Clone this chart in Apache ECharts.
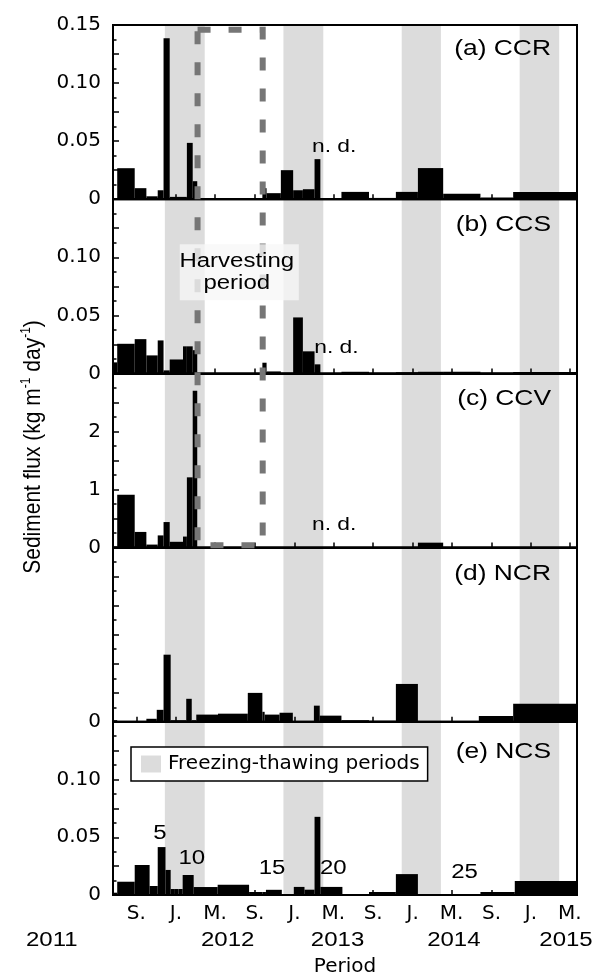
<!DOCTYPE html>
<html><head><meta charset="utf-8">
<script src="https://cdn.jsdelivr.net/npm/echarts@6/dist/echarts.min.js"></script>
<style>html,body{margin:0;padding:0;background:#fff}#c{width:595px;height:978px}</style>
</head><body><div id="c"></div>
<script>
// ---------------- DATA ----------------
const xRange = ['2011-06-21', '2015-05-23'];
const xTickDates = ['2011-09-01','2012-01-01','2012-05-01','2012-09-01','2013-01-01','2013-05-01',
                    '2013-09-01','2014-01-01','2014-05-01','2014-09-01','2015-01-01','2015-05-01'];
const xTickLabels = ['S.','J.','M.','S.','J.','M.','S.','J.','M.','S.','J.','M.'];
const yearLabels = ['2011','2012','2013','2014','2015'];
const yearLabelDates = ['2010-12-14','2012-06-09','2013-05-14','2014-05-08','2015-04-19'];
const freezePeriods = [['2011-11-28','2012-03-30'],['2012-11-28','2013-03-31'],
                       ['2013-11-28','2014-03-29'],['2014-11-27','2015-03-29']];
const harvestPeriod = ['2012-03-08','2012-09-25'];
const panelTitles = ['(a) CCR','(b) CCS','(c) CCV','(d) NCR','(e) NCS'];
const yMaxes = [0.15, 0.15, 3, 0.15, 0.15];
const yMajorSteps = [0.025, 0.025, 0.5, 0.025, 0.025];
const noDataPanels = [0, 1, 2];
const noDataDates = ['2013-02-24', '2013-03-03', '2013-02-24'];

// sampling periods: [start, end, sediment flux]
const ccrFlux = [
 ['2011-06-21','2011-07-04',0.001],['2011-07-04','2011-08-27',0.0267],['2011-08-27','2011-10-02',0.0095],
 ['2011-10-02','2011-11-06',0.0025],['2011-11-06','2011-11-24',0.0077],['2011-11-24','2011-12-13',0.1386],
 ['2011-12-13','2012-01-23',0.002],['2012-01-23','2012-02-04',0.002],['2012-02-04','2012-02-22',0.0485],
 ['2012-02-22','2012-03-07',0.0155],['2012-09-24','2012-10-07',0.0095],['2012-10-07','2012-11-20',0.0052],
 ['2012-11-20','2012-12-28',0.025],['2012-12-28','2013-01-27',0.0077],['2013-01-27','2013-03-04',0.0086],
 ['2013-03-04','2013-03-22',0.0345],['2013-05-26','2013-08-19',0.0063],['2013-08-19','2013-11-10',0.0011],
 ['2013-11-10','2014-01-17',0.0063],['2014-01-17','2014-04-05',0.0268],['2014-04-05','2014-07-29',0.0046],
 ['2014-07-29','2014-11-07',0.0015],['2014-11-07','2015-05-22',0.0063]
];
const ccsFlux = [
 ['2011-06-21','2011-07-04',0.0095],['2011-07-04','2011-08-27',0.0255],['2011-08-27','2011-10-02',0.0295],
 ['2011-10-02','2011-11-06',0.0155],['2011-11-06','2011-11-24',0.0284],['2011-11-24','2011-12-13',0.0026],
 ['2011-12-13','2012-01-23',0.012],['2012-01-23','2012-02-04',0.0233],['2012-02-04','2012-02-22',0.0233],
 ['2012-02-22','2012-03-07',0.020],['2012-09-24','2012-10-07',0.0092],['2012-10-07','2012-11-20',0.0017],
 ['2012-11-20','2012-12-28',0.0006],['2012-12-28','2013-01-27',0.0482],['2013-01-27','2013-03-04',0.019],
 ['2013-03-04','2013-03-22',0.0078],['2013-05-26','2013-08-19',0.0014],['2013-08-19','2013-11-10',0.0005],
 ['2013-11-10','2014-01-17',0.001],['2014-01-17','2014-04-05',0.0014],['2014-04-05','2014-07-29',0.0014],
 ['2014-07-29','2014-11-07',0.0006],['2014-11-07','2015-05-22',0.0011]
];
const ccvFlux = [
 ['2011-06-21','2011-07-04',0.02],['2011-07-04','2011-08-27',0.91],['2011-08-27','2011-10-02',0.27],
 ['2011-10-02','2011-11-06',0.052],['2011-11-06','2011-11-24',0.21],['2011-11-24','2011-12-13',0.44],
 ['2011-12-13','2012-01-23',0.10],['2012-01-23','2012-02-04',0.19],['2012-02-04','2012-02-22',1.21],
 ['2012-02-22','2012-03-07',2.70],['2012-09-24','2012-10-07',0.01],['2012-10-07','2012-11-20',0.005],
 ['2012-11-20','2012-12-28',0.003],['2012-12-28','2013-01-27',0.01],['2013-01-27','2013-03-04',0.008],
 ['2013-03-04','2013-03-22',0.005],['2013-05-26','2013-08-19',0.005],['2013-08-19','2013-11-10',0.003],
 ['2013-11-10','2014-01-17',0.005],['2014-01-17','2014-04-05',0.085],['2014-04-05','2014-07-29',0.005],
 ['2014-07-29','2014-11-07',0.003],['2014-11-07','2015-05-22',0.005]
];
const ncrFlux = [
 ['2011-06-21','2011-07-04',0.0014],['2011-07-04','2011-10-02',0.0006],['2011-10-02','2011-11-03',0.0026],
 ['2011-11-03','2011-11-24',0.0103],['2011-11-24','2011-12-16',0.0578],['2011-12-16','2012-02-02',0.0014],
 ['2012-02-02','2012-02-19',0.0198],['2012-02-19','2012-03-04',0.0014],['2012-03-04','2012-05-10',0.0062],
 ['2012-05-10','2012-08-10',0.007],['2012-08-10','2012-09-24',0.0249],['2012-09-24','2012-10-01',0.0086],
 ['2012-10-01','2012-11-16',0.0062],['2012-11-16','2012-12-27',0.0078],['2012-12-27','2013-03-02',0.0003],
 ['2013-03-02','2013-03-20',0.0139],['2013-03-20','2013-05-26',0.0053],['2013-05-26','2013-08-19',0.0014],
 ['2013-08-19','2013-11-10',0.0009],['2013-11-10','2014-01-17',0.0326],['2014-01-17','2014-07-24',0.0003],
 ['2014-07-24','2014-11-07',0.0049],['2014-11-07','2015-05-22',0.0155]
];
const ncsFlux = [
 ['2011-06-21','2011-07-04',0.002],['2011-07-04','2011-08-27',0.0115],['2011-08-27','2011-10-12',0.026],
 ['2011-10-12','2011-11-06',0.0078],['2011-11-06','2011-11-30',0.0415],['2011-11-30','2011-12-16',0.0217],
 ['2011-12-16','2011-12-29',0.0052],['2011-12-29','2012-01-09',0.0052],['2012-01-09','2012-01-22',0.0052],
 ['2012-01-22','2012-02-25',0.0173],['2012-02-25','2012-05-09',0.0069],['2012-05-09','2012-08-14',0.0088],
 ['2012-08-14','2012-09-24',0.0026],['2012-09-24','2012-10-05',0.0026],['2012-10-05','2012-11-23',0.0045],
 ['2012-11-23','2012-12-30',0.0008],['2012-12-30','2013-02-01',0.007],['2013-02-01','2013-03-04',0.0046],
 ['2013-03-04','2013-03-22',0.0677],['2013-03-22','2013-05-29',0.007],['2013-05-29','2013-08-19',0.0003],
 ['2013-08-19','2013-11-10',0.0026],['2013-11-10','2014-01-17',0.0181],['2014-01-17','2014-04-30',0.0006],
 ['2014-04-30','2014-07-29',0.0006],['2014-07-29','2014-11-12',0.0026],['2014-11-12','2015-05-22',0.0121]
];
const panelFlux = [ccrFlux, ccsFlux, ccvFlux, ncrFlux, ncsFlux];
// sampling-period numbers shown in panel (e): [label, date, flux level]
const periodNumbers = [['5','2011-11-13',0.0534],['10','2012-02-19',0.0314],['15','2012-10-24',0.0228],
                       ['20','2013-05-01',0.0228],['25','2014-06-10',0.0194]];

// ---------------- CHART ----------------
const ts = s => { const p = s.split('-').map(Number); return Date.UTC(p[0], p[1]-1, p[2]); };
const tickTs = xTickDates.map(ts);
const gridTop = 25, gridH = 174.2, gridLeft = 113, gridRight = 18;
const FONT = 'DejaVu Sans';

const grids = [], xAxes = [], yAxes = [], series = [];
for (let i = 0; i < 5; i++) {
  grids.push({left: gridLeft, right: gridRight, top: gridTop + i * gridH, height: gridH,
              show: true, borderColor: '#000', borderWidth: 2, z: 6});
  xAxes.push({
    gridIndex: i, type: 'value', min: ts(xRange[0]), max: ts(xRange[1]), z: 6,
    axisLine: {show: true, onZero: false, lineStyle: {color: '#000', width: 2}},
    axisTick: {show: true, inside: true, length: 5, customValues: tickTs, lineStyle: {color: '#000', width: 1.5}},
    splitLine: {show: false},
    axisLabel: {show: i === 4, customValues: tickTs, margin: 9, color: '#000', fontFamily: FONT, fontSize: 20,
                formatter: v => xTickLabels[tickTs.indexOf(v)] || ''},
    name: i === 4 ? 'Period' : '', nameLocation: 'middle', nameGap: 62,
    nameTextStyle: {color: '#000', fontFamily: FONT, fontSize: 20}
  });
  const mx = yMaxes[i];
  yAxes.push({
    gridIndex: i, type: 'value', min: 0, max: mx, interval: yMajorSteps[i], z: 6,
    axisLine: {show: true, lineStyle: {color: '#000', width: 2}},
    axisTick: {show: true, inside: true, length: 6, lineStyle: {color: '#000', width: 1.5}},
    minorTick: {show: true, splitNumber: 2, length: 3.5, lineStyle: {color: '#000', width: 1.5}},
    splitLine: {show: false}, minorSplitLine: {show: false},
    axisLabel: {color: '#000', fontFamily: FONT, fontSize: 20, margin: 12,
      formatter: v => {
        if (Math.abs(v) < 1e-9) return '0';
        if (i === 3) return '';
        if (Math.abs(v - mx) < 1e-9 && i !== 0) return '';
        if (i === 2) return Math.abs(v - Math.round(v)) < 1e-9 ? String(Math.round(v)) : '';
        const r = Math.round(v * 100) / 100;
        return Math.abs(v - r) < 1e-9 && Math.round(v * 1000) % 50 === 0 ? v.toFixed(2) : '';
      }}
  });
  series.push({
    name: 'Freezing-thawing periods', type: 'custom', xAxisIndex: i, yAxisIndex: i, z: 1,
    itemStyle: {color: '#dcdcdc'}, silent: true,
    data: freezePeriods.map(p => [ts(p[0]), ts(p[1])]),
    encode: {x: [0, 1]},
    renderItem: (params, api) => {
      const a = api.coord([api.value(0), 0]), b = api.coord([api.value(1), 0]);
      const cs = params.coordSys;
      return {type: 'rect', shape: {x: a[0], y: cs.y, width: b[0] - a[0], height: cs.height},
              style: {fill: '#dcdcdc'}};
    }
  });
  series.push({
    name: panelTitles[i], type: 'custom', xAxisIndex: i, yAxisIndex: i, z: 3, silent: true,
    data: panelFlux[i].map(d => [ts(d[0]), ts(d[1]), d[2]]),
    encode: {x: [0, 1], y: 2},
    renderItem: (params, api) => {
      const a = api.coord([api.value(0), 0]), b = api.coord([api.value(1), api.value(2)]);
      return {type: 'rect', shape: {x: a[0], y: b[1], width: b[0] - a[0], height: a[1] - b[1]},
              style: {fill: '#000'}};
    }
  });
}

const option = {
  animation: false, backgroundColor: '#fff',
  grid: grids, xAxis: xAxes, yAxis: yAxes, series: series,
  legend: {data: [{name: 'Freezing-thawing periods', icon: 'rect'}], left: 131, top: 747,
           padding: [7, 8, 7, 10], itemWidth: 20, itemHeight: 17, selectedMode: false,
           textStyle: {fontFamily: FONT, fontSize: 20, color: '#000', padding: [0, 0, 0, 2]},
           borderColor: '#000', borderWidth: 1.5, backgroundColor: '#fff', z: 10}
};
const chart = echarts.init(document.getElementById('c'));
chart.setOption(option);

// ---------------- ANNOTATIONS ----------------
const px = (g, d, v) => chart.convertToPixel({xAxisIndex: g, yAxisIndex: g}, [ts(d), v]);
const txt = (t, x, y, size, align, extra) => Object.assign({
  type: 'text', x: x, y: y, scaleX: 1.2, z: 30,
  style: {text: t, fontFamily: 'Liberation Sans', fontSize: size, fill: '#000',
          align: align || 'center', verticalAlign: 'middle'}
}, extra || {});
const gfx = [];
// harvesting dashed box (from top of panel a to bottom of panel c)
const hTL = px(0, harvestPeriod[0], 0.146), hBR = px(2, harvestPeriod[1], 0.04);
gfx.push({type: 'rect', z: 25, shape: {x: hTL[0], y: hTL[1], width: hBR[0] - hTL[0], height: hBR[1] - hTL[1]},
          style: {fill: null, stroke: '#767676', lineWidth: 6, lineDash: [13, 18]}});
const hc = px(1, '2012-07-07', 0.087);
gfx.push({type: 'rect', z: 26, shape: {x: hc[0] - 57, y: hc[1] - 28, width: 119, height: 56},
          style: {fill: 'rgba(247,247,247,0.78)'}});
gfx.push(txt('Harvesting', hc[0], hc[1] - 11, 20, 'center'));
gfx.push(txt('period', hc[0], hc[1] + 11, 20, 'center'));
// panel titles
const titleGap = [24, 26, 26, 26, 30];
for (let i = 0; i < 5; i++) {
  const p = px(i, xRange[1], yMaxes[i]);
  gfx.push(txt(panelTitles[i], p[0] - 26, p[1] + titleGap[i], 22, 'right'));
}
// n. d.
const ndLevel = [0.045, 0.022, 0.4];
noDataPanels.forEach(i => { const p = px(i, noDataDates[i], ndLevel[i]); gfx.push(txt('n. d.', p[0], p[1], 19, 'left')); });
// period numbers in (e)
periodNumbers.forEach(n => { const p = px(4, n[1], n[2]); gfx.push(txt(n[0], p[0], p[1], 20, 'center')); });
// year labels
yearLabels.forEach((y, k) => { const p = px(4, yearLabelDates[k], 0); gfx.push(txt(y, p[0], p[1] + 45, 20, 'center')); });
// y-axis title
gfx.push({type: 'text', x: 33, y: 447, rotation: Math.PI / 2, scaleY: 1.15, z: 30,
  style: {text: '{a|Sediment flux (kg m}{s|-1}{a| day}{s|-1}{a|)}', align: 'center', verticalAlign: 'middle',
    rich: {a: {fontFamily: 'Liberation Sans', fontSize: 21, fill: '#000', lineHeight: 23},
           s: {fontFamily: 'Liberation Sans', fontSize: 12, fill: '#000', verticalAlign: 'top', lineHeight: 23}}}});
chart.setOption({graphic: {elements: gfx}});
</script></body></html>
